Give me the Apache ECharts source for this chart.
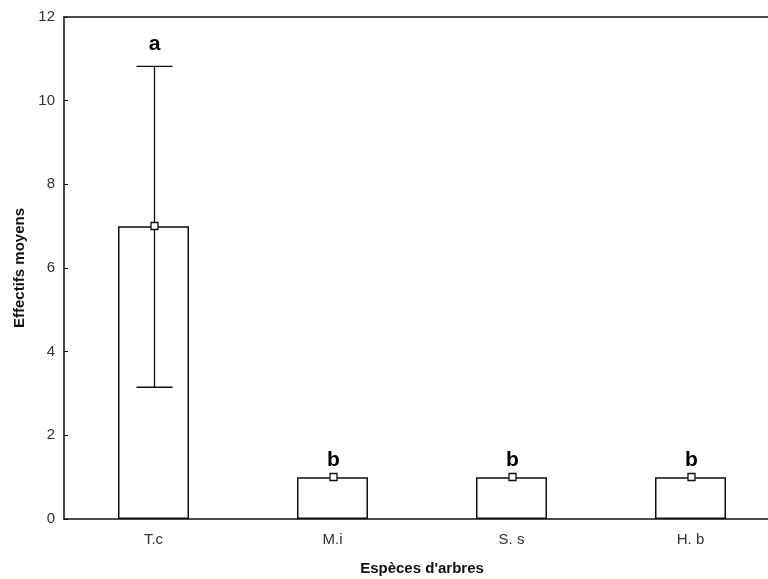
<!DOCTYPE html>
<html>
<head>
<meta charset="utf-8">
<script src="https://cdn.jsdelivr.net/npm/echarts@6/dist/echarts.min.js"></script>
<style>html,body{margin:0;padding:0;background:#fff}#c{width:768px;height:579px}</style>
</head>
<body>
<div id="c"></div>
<script>
var categories = ['T.c', 'M.i', 'S. s', 'H. b'];
var means = [7, 1, 1, 1];
var lowers = [3.15, 1, 1, 1];
var uppers = [10.82, 1, 1, 1];
var letters = ['a', 'b', 'b', 'b'];
var yTicks = [0, 2, 4, 6, 8, 10, 12];

var chart = echarts.init(document.getElementById('c'), null, {renderer: 'canvas'});
var font = '"Liberation Sans", Arial, sans-serif';
var errData = categories.map(function (c, i) { return [i, lowers[i], uppers[i], means[i], letters[i]]; });

chart.setOption({
  animation: false,
  backgroundColor: '#fff',
  grid: {left: 64, top: 17, width: 716, height: 502, outerBoundsMode: 'none', containLabel: false},
  xAxis: [{
    type: 'category', data: categories, position: 'bottom',
    axisLine: {lineStyle: {color: '#111', width: 1.5}},
    axisTick: {inside: true, length: 4, alignWithLabel: true, lineStyle: {color: '#111'}},
    axisLabel: {color: '#333', fontFamily: font, fontSize: 15, margin: 13},
    name: "Espèces d'arbres", nameLocation: 'middle', nameGap: 42,
    nameTextStyle: {color: '#111', fontFamily: font, fontSize: 15, fontWeight: 'bold'}
  }, {
    type: 'category', data: categories, position: 'top',
    axisLine: {lineStyle: {color: '#111', width: 1.5}},
    axisTick: {inside: true, length: 4, alignWithLabel: true, lineStyle: {color: '#111'}},
    axisLabel: {show: false}
  }],
  yAxis: {
    type: 'value', min: 0, max: 12, interval: 2,
    axisLine: {show: true, lineStyle: {color: '#111', width: 1.5}},
    axisTick: {show: true, inside: true, length: 4, lineStyle: {color: '#111'}},
    axisLabel: {color: '#333', fontFamily: font, fontSize: 15, margin: 9,
      formatter: function (v) { return yTicks.indexOf(v) >= 0 ? String(v) : ''; }},
    splitLine: {show: false},
    name: 'Effectifs moyens', nameLocation: 'middle', nameGap: 36,
    nameTextStyle: {color: '#111', fontFamily: font, fontSize: 15, fontWeight: 'bold', padding: [0, 0, 0, 0]}
  },
  series: [{
    type: 'bar', data: means, barWidth: 71,
    itemStyle: {color: '#fff', borderColor: '#111', borderWidth: 1.5},
    silent: true
  }, {
    type: 'custom', data: errData, z: 10,
    renderItem: function (params, api) {
      var x = api.value(0);
      var lo = api.coord([x, api.value(1)]);
      var hi = api.coord([x, api.value(2)]);
      var m = api.coord([x, api.value(3)]);
      var cx = Math.round(lo[0]) + 0.5;
      var capW = 18;
      var children = [];
      if (Math.abs(hi[1] - lo[1]) > 1) {
        children.push({type: 'line', shape: {x1: cx, y1: hi[1], x2: cx, y2: lo[1]}, style: {stroke: '#111', lineWidth: 1.3}});
        children.push({type: 'line', shape: {x1: cx - capW, y1: hi[1], x2: cx + capW, y2: hi[1]}, style: {stroke: '#111', lineWidth: 1.3}});
        children.push({type: 'line', shape: {x1: cx - capW, y1: lo[1], x2: cx + capW, y2: lo[1]}, style: {stroke: '#111', lineWidth: 1.3}});
      }
      children.push({type: 'rect', shape: {x: cx - 3.5, y: Math.round(m[1]) - 3.5, width: 7, height: 7}, style: {fill: '#fff', stroke: '#111', lineWidth: 1.3}});
      var gap = Math.abs(hi[1] - lo[1]) > 1 ? 12 : 6;
      children.push({type: 'text', style: {text: api.value(4), x: cx, y: hi[1] - gap, align: 'center', verticalAlign: 'bottom', fontFamily: font, fontSize: 21, fontWeight: 'bold', fill: '#000'}});
      return {type: 'group', children: children};
    }
  }]
});
</script>
</body>
</html>
